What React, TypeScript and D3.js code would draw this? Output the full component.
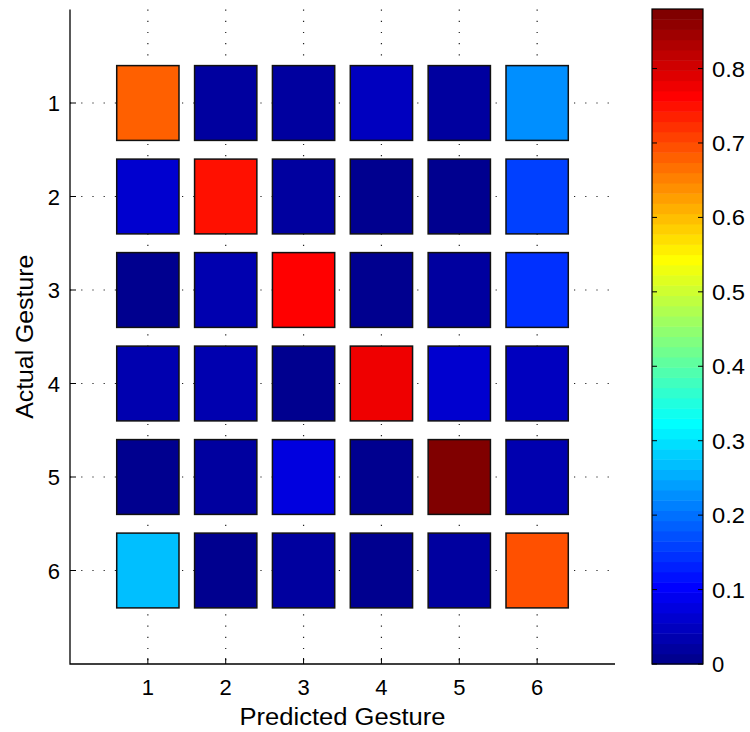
import React from 'react'
import * as d3 from 'd3'

// gesture labels and confusion values (rows = actual, cols = predicted)
const gestures = [1, 2, 3, 4, 5, 6]
const row1 = [0.68, 0.02, 0.02, 0.05, 0.02, 0.23]
const row2 = [0.06, 0.75, 0.02, 0.01, 0.01, 0.155]
const row3 = [0.01, 0.03, 0.76, 0.01, 0.02, 0.14]
const row4 = [0.03, 0.04, 0.01, 0.78, 0.06, 0.05]
const row5 = [0.01, 0.02, 0.08, 0.01, 0.88, 0.03]
const row6 = [0.27, 0.01, 0.02, 0.01, 0.02, 0.69]
const matrix = [row1, row2, row3, row4, row5, row6]
const colorTicks = [0, 0.1, 0.2, 0.3, 0.4, 0.5, 0.6, 0.7, 0.8]

const LEVELS = 64
const font = '"Liberation Sans", Arial, sans-serif'

// matlab style jet, level j = 1..64
function jet(j: number) {
  const t = j / LEVELS
  const c = (v: number) => Math.round(Math.max(0, Math.min(1, v)) * 255)
  return d3.rgb(c(1.5 - Math.abs(4 * t - 3)), c(1.5 - Math.abs(4 * t - 2)), c(1.5 - Math.abs(4 * t - 1))).toString()
}

export default function App() {
  const cmax = d3.max(matrix.flat()) as number
  const x = d3.scaleLinear().domain([0, 7]).range([70, 615])
  const y = d3.scaleLinear().domain([0, 7]).range([9.5, 664])
  const cb = d3.scaleLinear().domain([0, cmax]).range([664, 9])
  const cbX0 = 652
  const cbX1 = 703
  const levelOf = (v: number) => Math.min(LEVELS, Math.floor((v / cmax) * LEVELS) + 1)
  const levels = d3.range(1, LEVELS + 1)

  return (
    <svg width={750} height={732} style={{ position: 'absolute', left: 0, top: 0 }} fontFamily={font}>
      <rect width={750} height={732} fill="#fff" />
      {/* dotted grid */}
      {gestures.map(g => (
        <g key={'g' + g} stroke="#222" strokeWidth={1.2} strokeDasharray="1.2,10">
          <line x1={x(g)} x2={x(g)} y1={y(0)} y2={y(7)} />
          <line x1={x(0)} x2={x(7)} y1={y(g)} y2={y(g)} />
        </g>
      ))}
      {/* cells */}
      {matrix.map((row, i) =>
        row.map((v, k) => (
          <rect
            key={i + '-' + k}
            x={x(gestures[k] - 0.4)}
            y={y(gestures[i] - 0.4)}
            width={x(1.8) - x(1)}
            height={y(1.8) - y(1)}
            fill={jet(levelOf(v))}
            stroke="#111"
            strokeWidth={1.5}
          />
        ))
      )}
      {/* axes */}
      <path d={`M${x(0)},${y(0)}V${y(7)}H${x(7)}`} fill="none" stroke="#000" strokeWidth={1.3} />
      {gestures.map(g => (
        <g key={'t' + g} stroke="#000" strokeWidth={1}>
          <line x1={x(g)} x2={x(g)} y1={y(7)} y2={y(7) - 6} />
          <line x1={x(0)} x2={x(0) + 6} y1={y(g)} y2={y(g)} />
        </g>
      ))}
      {gestures.map(g => (
        <text key={'xl' + g} x={x(g)} y={695} fontSize={22} textAnchor="middle">{g}</text>
      ))}
      {gestures.map(g => (
        <text key={'yl' + g} x={60} y={y(g) + 8} fontSize={22} textAnchor="end">{g}</text>
      ))}
      <text x={x(3.5) - 103} y={725} fontSize={23} textLength={206} lengthAdjust="spacingAndGlyphs">Predicted Gesture</text>
      <text transform={`translate(33,${y(3.5) + 82}) rotate(-90)`} fontSize={23} textLength={164} lengthAdjust="spacingAndGlyphs">Actual Gesture</text>
      {/* colorbar */}
      {levels.map(j => (
        <rect
          key={'c' + j}
          x={cbX0}
          width={cbX1 - cbX0}
          y={cb((j * cmax) / LEVELS)}
          height={cb(((j - 1) * cmax) / LEVELS) - cb((j * cmax) / LEVELS) + 0.5}
          fill={jet(j)}
        />
      ))}
      <rect x={cbX0} y={cb(cmax)} width={cbX1 - cbX0} height={cb(0) - cb(cmax)} fill="none" stroke="#000" strokeWidth={1.2} />
      {colorTicks.map(t => (
        <g key={'ct' + t}>
          <line x1={cbX0} x2={cbX0 + 5} y1={cb(t)} y2={cb(t)} stroke="#000" />
          <line x1={cbX1} x2={cbX1 - 5} y1={cb(t)} y2={cb(t)} stroke="#000" />
          {t === 0 ? (
            <text x={712} y={cb(t) + 8} fontSize={22}>{t}</text>
          ) : (
            <text x={712} y={cb(t) + 8} fontSize={22} textLength={33} lengthAdjust="spacingAndGlyphs">{t}</text>
          )}
        </g>
      ))}
    </svg>
  )
}
